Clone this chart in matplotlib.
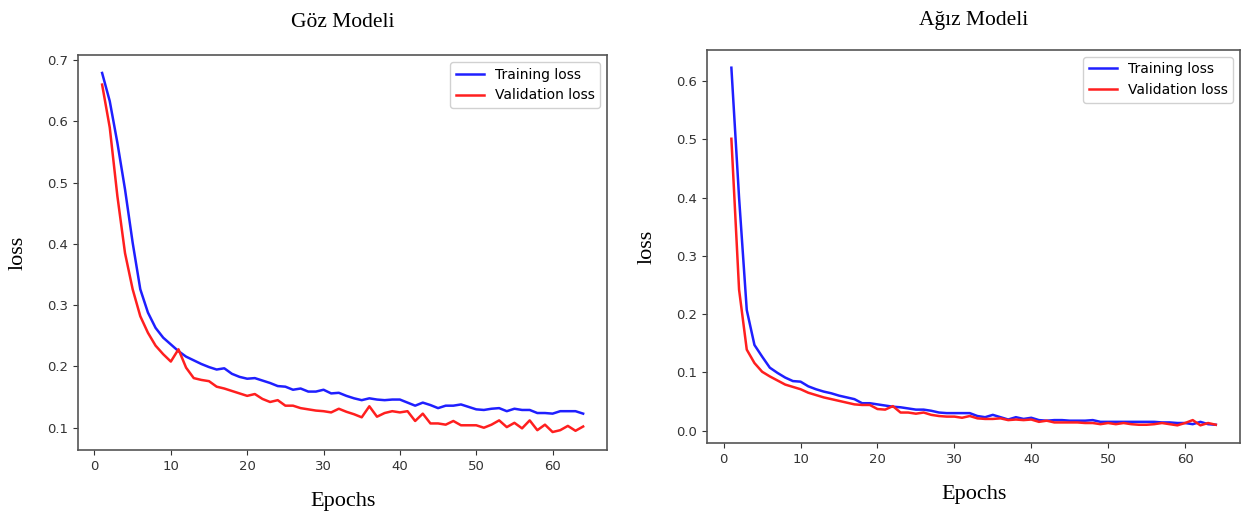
import matplotlib
matplotlib.use("Agg")
import matplotlib.pyplot as plt

# Göz Modeli (eye model) losses, epochs 1..64
goz_train = [0.679, 0.633, 0.565, 0.489, 0.402, 0.326, 0.288, 0.263, 0.247, 0.236,
             0.225, 0.216, 0.210, 0.204, 0.199, 0.195, 0.197, 0.188, 0.183, 0.180,
             0.181, 0.177, 0.173, 0.168, 0.167, 0.162, 0.164, 0.159, 0.159, 0.162,
             0.156, 0.157, 0.152, 0.148, 0.145, 0.148, 0.146, 0.145, 0.146, 0.146,
             0.141, 0.136, 0.141, 0.137, 0.132, 0.136, 0.136, 0.138, 0.134, 0.130,
             0.129, 0.131, 0.132, 0.127, 0.131, 0.129, 0.129, 0.124, 0.124, 0.123,
             0.127, 0.127, 0.127, 0.123]
goz_val = [0.660, 0.590, 0.478, 0.385, 0.326, 0.282, 0.255, 0.234, 0.220, 0.208,
           0.228, 0.198, 0.181, 0.178, 0.176, 0.167, 0.164, 0.160, 0.156, 0.152,
           0.155, 0.147, 0.142, 0.145, 0.136, 0.136, 0.132, 0.130, 0.128, 0.127,
           0.125, 0.131, 0.126, 0.122, 0.117, 0.135, 0.118, 0.124, 0.127, 0.125,
           0.127, 0.111, 0.123, 0.107, 0.107, 0.105, 0.111, 0.104, 0.104, 0.104,
           0.100, 0.105, 0.112, 0.101, 0.108, 0.099, 0.112, 0.096, 0.105, 0.093,
           0.096, 0.103, 0.095, 0.102]

# Ağız Modeli (mouth model) losses, epochs 1..64
agiz_train = [0.623, 0.400, 0.207, 0.147, 0.127, 0.108, 0.099, 0.091, 0.085, 0.084,
              0.076, 0.071, 0.067, 0.064, 0.060, 0.057, 0.054, 0.047, 0.047, 0.045,
              0.043, 0.041, 0.040, 0.038, 0.036, 0.036, 0.034, 0.031, 0.030, 0.030,
              0.030, 0.030, 0.025, 0.023, 0.027, 0.023, 0.019, 0.023, 0.020, 0.022,
              0.018, 0.017, 0.018, 0.018, 0.017, 0.017, 0.017, 0.018, 0.015, 0.015,
              0.015, 0.015, 0.015, 0.015, 0.015, 0.015, 0.014, 0.014, 0.013, 0.013,
              0.011, 0.015, 0.011, 0.010]
agiz_val = [0.501, 0.242, 0.139, 0.116, 0.101, 0.093, 0.086, 0.079, 0.075, 0.071,
            0.065, 0.061, 0.057, 0.054, 0.051, 0.048, 0.045, 0.044, 0.044, 0.037,
            0.036, 0.042, 0.031, 0.031, 0.029, 0.031, 0.027, 0.025, 0.024, 0.024,
            0.022, 0.025, 0.021, 0.020, 0.020, 0.021, 0.018, 0.019, 0.018, 0.019,
            0.015, 0.017, 0.014, 0.014, 0.014, 0.014, 0.013, 0.013, 0.011, 0.013,
            0.011, 0.013, 0.011, 0.010, 0.010, 0.011, 0.013, 0.011, 0.009, 0.013,
            0.018, 0.009, 0.013, 0.010]

epochs = list(range(1, len(goz_train) + 1))
titles = ["Göz Modeli", "Ağız Modeli"]

fig = plt.figure(figsize=(12.45, 5.19), dpi=100)
ax1 = fig.add_axes([0.0627, 0.133, 0.425, 0.761])
ax2 = fig.add_axes([0.568, 0.146, 0.428, 0.758])

serif = ["Liberation Serif", "DejaVu Serif"]

for ax, tr, va, title, pad in [(ax1, goz_train, goz_val, titles[0], 20),
                               (ax2, agiz_train, agiz_val, titles[1], 18)]:
    ax.plot(epochs, tr, color="#1f1fff", lw=1.8, label="Training loss")
    ax.plot(epochs, va, color="#ff1f1f", lw=1.8, label="Validation loss")
    ax.set_xticks(range(0, 61, 10))
    ax.tick_params(labelsize=9.5, colors="#333333")
    for s in ax.spines.values():
        s.set_color("#555555")
        s.set_linewidth(1.2)
    ax.legend(loc="upper right", fontsize=10, framealpha=0.9)
    ax.set_xlabel("Epochs", family=serif, fontsize=16, labelpad=14)
    ax.set_ylabel("loss", family=serif, fontsize=16, labelpad=14)
    ax.set_title(title, family=serif, fontsize=15.5, pad=pad)

fig.savefig("out.png", dpi=100)
